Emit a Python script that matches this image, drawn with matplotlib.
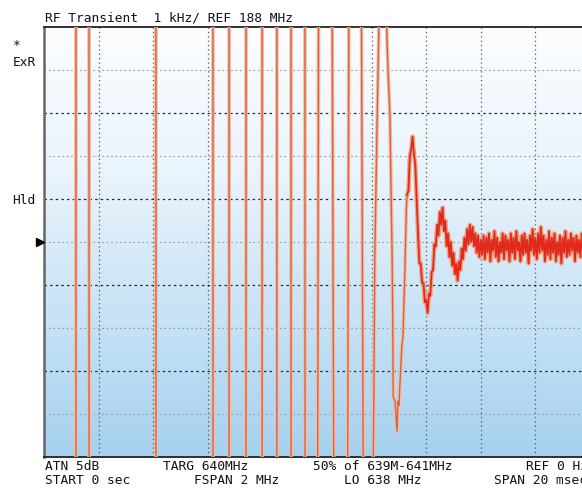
import numpy as np
import matplotlib.pyplot as plt
from matplotlib.colors import LinearSegmentedColormap

# display window: 0..20 ms, 639..641 MHz (FSPAN 2 MHz around TARG 640 MHz)
t_span = (0.0, 20.0)
f_span = (639.0, 641.0)
f_target = 640.0

# before lock the VCO frequency is far outside the window, the trace wraps
# through the screen; points just outside the window mark each pass
wrap_t = [0.00, 1.17, 1.17, 1.65, 1.65, 4.10, 4.10, 6.19, 6.19, 6.78, 6.78,
          7.40, 7.40, 7.99, 7.99, 8.53, 8.53, 9.05, 9.05, 9.56, 9.56,
          10.02, 10.06, 10.55, 10.62, 11.12, 11.17, 11.62, 11.70,
          12.04, 12.08, 12.12, 12.20, 12.31, 12.53]
wrap_f = [638.7, 638.7, 641.3, 641.3, 638.7, 638.7, 641.3, 641.3, 638.7, 638.7, 641.3,
          641.3, 638.7, 638.7, 641.3, 641.3, 638.7, 638.7, 641.3, 641.3, 638.7,
          638.7, 641.3, 641.3, 638.7, 638.7, 641.3, 641.3, 638.7,
          638.7, 639.24, 639.95, 640.55, 641.3, 641.3]

# last swing into the window
swing_t = [12.56, 12.60, 12.67, 12.71, 12.75, 12.78, 12.79, 12.86, 12.93, 12.97,
           13.00, 13.11, 13.15, 13.22, 13.27]
swing_f = [640.96, 640.80, 640.59, 640.26, 639.95, 639.56, 639.28, 639.26, 639.12, 639.26,
           639.24, 639.52, 639.56, 639.87, 640.15]

# ringing and settled (noisy) part, one sample every 0.05 ms from 13.30 ms
settle_t0 = 13.30
settle_dt = 0.05
settle_f = [
    640.22, 640.24, 640.40, 640.43, 640.49, 640.41, 640.36, 640.20, 640.04, 639.90,
    639.90, 639.81, 639.81, 639.72, 639.73, 639.67, 639.76, 639.75, 639.86, 639.87,
    639.99, 639.98, 640.08, 640.03, 640.14, 640.08, 640.16, 640.05, 640.10, 639.98,
    640.04, 639.93, 640.00, 639.89, 639.95, 639.85, 639.90, 639.82, 639.91, 639.87,
    639.97, 639.92, 640.02, 639.96, 640.06, 639.99, 640.08, 640.00, 640.07, 639.98,
    640.04, 639.95, 640.03, 639.93, 640.01, 639.94, 640.03, 639.92, 640.02, 639.95,
    640.04, 639.91, 640.01, 639.96, 640.05, 639.93, 640.02, 639.91, 640.00, 639.95,
    640.04, 639.92, 640.03, 639.96, 640.01, 639.91, 640.04, 639.95, 640.02, 639.92,
    640.05, 639.96, 640.00, 639.91, 640.03, 639.94, 640.04, 639.95, 640.01, 639.90,
    640.03, 639.96, 640.06, 639.94, 640.02, 639.92, 640.04, 639.95, 640.07, 639.96,
    640.03, 639.91, 640.01, 639.94, 640.05, 639.92, 640.02, 639.95, 640.04, 639.91,
    640.00, 639.94, 640.03, 639.90, 640.02, 639.95, 640.05, 639.93, 640.01, 639.94,
    640.04, 639.96, 640.02, 639.91, 640.03, 639.95, 640.01, 639.93, 640.04, 639.94,
    640.02, 639.96, 640.03, 639.93, 640.00,
]
settle_t = settle_t0 + settle_dt * np.arange(len(settle_f))

top_label = "RF Transient  1 kHz/ REF 188 MHz"
side_labels = [("*", 13, 45), ("ExR", 13, 62), ("Hld", 12, 200)]
bottom_labels = [
    ("ATN 5dB", 45, 467), ("TARG 640MHz", 163, 467),
    ("50% of 639M-641MHz", 313, 467), ("REF 0 Hz", 526, 467),
    ("START 0 sec", 45, 481), ("FSPAN 2 MHz", 194, 481),
    ("LO 638 MHz", 344, 481), ("SPAN 20 msec", 494, 481),
]

W, H = 582, 489
fig = plt.figure(figsize=(W / 100, H / 100), dpi=100)
fig.patch.set_facecolor("white")

# screen area runs a bit past the right edge of the picture
ax = fig.add_axes([44 / W, 31 / H, 546 / W, 430 / H])

bg = LinearSegmentedColormap.from_list(
    "screen", ["#fcfdff", "#eaf4fc", "#c8e3f6", "#a5d1ef"])
grad = np.linspace(0, 1, 256).reshape(-1, 1)
ax.imshow(grad, extent=[0, 1, 0, 1], transform=ax.transAxes, aspect="auto",
          cmap=bg, origin="upper", zorder=0)

ax.set_xlim(*t_span)
ax.set_ylim(*f_span)
ax.set_xticks(np.arange(0, 20.1, 2))
ax.set_yticks([639.4, 639.8, 640.2, 640.6])
ax.set_yticks([639.2, 639.6, 640.0, 640.4, 640.8], minor=True)
ax.tick_params(which="both", length=0, labelleft=False, labelbottom=False)
ax.grid(axis="x", which="major", ls=(0, (1, 2.5)), color="#555555", lw=0.9, zorder=1)
ax.grid(axis="y", which="major", ls=(0, (2, 2.5)), color="#2a2a2a", lw=0.9, zorder=1)
ax.grid(axis="y", which="minor", ls=(0, (1.5, 2.5)), color="#9a9a9a", lw=0.8, zorder=1)
ax.set_axisbelow(True)

for s in ["top", "bottom"]:
    ax.spines[s].set_color("#222222")
    ax.spines[s].set_linewidth(1.3)
ax.spines["left"].set_color("#666666")
ax.spines["left"].set_linewidth(1.8)
ax.spines["right"].set_visible(False)

# trace: pale halo under an orange core, red core once it is close to lock
t_pre = list(wrap_t) + list(swing_t) + [settle_t[0]]
f_pre = list(wrap_f) + list(swing_f) + [settle_f[0]]
ax.plot(t_pre, f_pre, color="#f2bca6", lw=2.6, zorder=3)
ax.plot(settle_t, settle_f, color="#f0a58a", lw=3.2, zorder=3)
ax.plot(t_pre, f_pre, color="#d8633e", lw=1.0, zorder=4)
ax.plot(settle_t, settle_f, color="#e22a1c", lw=1.3, zorder=4)

# reference level marker on the left edge
ax.plot([-0.008], [f_target], marker=">", color="black", markersize=6,
        transform=ax.get_yaxis_transform(), clip_on=False, zorder=5)

mono = dict(family="DejaVu Sans Mono", fontsize=9.3, color="#111111", va="center")
fig.text(45 / W, 1 - 18 / H, top_label, ha="left", **mono)
for txt, x, y in side_labels:
    fig.text(x / W, 1 - y / H, txt, ha="left", **mono)
for txt, x, y in bottom_labels:
    fig.text(x / W, 1 - y / H, txt, ha="left", **mono)

fig.savefig("out.png", dpi=100)
